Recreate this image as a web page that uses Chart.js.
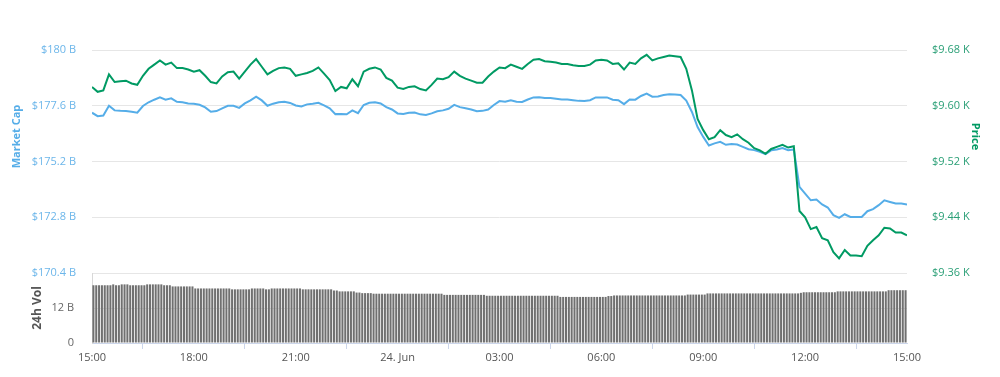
<!DOCTYPE html>
<html>
<head>
<meta charset="utf-8">
<script src="https://cdn.jsdelivr.net/npm/chart.js@4.4.1/dist/chart.umd.min.js"></script>
<style>
  html, body { margin: 0; padding: 0; background: #fff; }
  #wrap { position: relative; width: 1000px; height: 377px; overflow: hidden; }
  #wrap canvas { position: absolute; left: 0; }
  #main { top: 0; }
  #vol { top: 261px; }
</style>
</head>
<body>
<div id="wrap">
  <canvas id="main" width="1000" height="300"></canvas>
  <canvas id="vol" width="1000" height="116"></canvas>
</div>
<script>
// 10-minute samples from 15:00 to 15:00 next day
const marketCap = [
  177.30, 177.15, 177.18, 177.60, 177.40, 177.38, 177.37, 177.34, 177.30, 177.59, 177.75, 177.86,
  177.96, 177.86, 177.92, 177.77, 177.75, 177.70, 177.69, 177.64, 177.53, 177.34, 177.37, 177.49,
  177.60, 177.60, 177.51, 177.70, 177.83, 177.99, 177.83, 177.60, 177.69, 177.75, 177.77, 177.72,
  177.61, 177.57, 177.66, 177.69, 177.73, 177.62, 177.49, 177.24, 177.25, 177.23, 177.40, 177.28,
  177.63, 177.73, 177.75, 177.70, 177.54, 177.44, 177.27, 177.25, 177.30, 177.31, 177.23, 177.20,
  177.27, 177.36, 177.40, 177.47, 177.64, 177.54, 177.49, 177.44, 177.36, 177.38, 177.44, 177.63,
  177.80, 177.77, 177.84, 177.77, 177.76, 177.87, 177.96, 177.97, 177.93, 177.93, 177.90, 177.87,
  177.87, 177.84, 177.81, 177.80, 177.84, 177.96, 177.96, 177.96, 177.86, 177.84, 177.67, 177.87,
  177.86, 178.02, 178.12, 177.99, 178.00, 178.06, 178.09, 178.08, 178.06, 177.82, 177.33, 176.68,
  176.26, 175.89, 175.98, 176.05, 175.92, 175.95, 175.93, 175.83, 175.73, 175.69, 175.62, 175.52,
  175.68, 175.72, 175.78, 175.69, 175.72, 174.11, 173.82, 173.53, 173.56, 173.35, 173.22, 172.89,
  172.77, 172.93, 172.81, 172.81, 172.81, 173.06, 173.15, 173.32, 173.53, 173.46, 173.39, 173.39,
  173.35
];

const price = [
  9627, 9620, 9622, 9645, 9634, 9635, 9636, 9632, 9630, 9643, 9653, 9659,
  9665, 9659, 9662, 9654, 9654, 9652, 9649, 9651, 9643, 9634, 9632, 9642,
  9648, 9649, 9639, 9649, 9659, 9667, 9656, 9645, 9650, 9654, 9655, 9653,
  9643, 9645, 9647, 9650, 9655, 9646, 9637, 9621, 9627, 9625, 9638, 9628,
  9649, 9653, 9655, 9652, 9640, 9636, 9626, 9624, 9627, 9628, 9624, 9622,
  9630, 9639, 9638, 9641, 9649, 9643, 9639, 9636, 9633, 9633, 9642, 9649,
  9655, 9654, 9659, 9656, 9653, 9660, 9666, 9667, 9664, 9663, 9662, 9660,
  9660, 9658, 9657, 9657, 9659, 9665, 9666, 9665, 9660, 9661, 9652, 9662,
  9660, 9668, 9673, 9665, 9668, 9670, 9672, 9671, 9670, 9653, 9622, 9581,
  9565, 9552, 9555, 9565, 9558, 9555, 9559, 9552, 9547, 9539, 9536, 9531,
  9538, 9541, 9544, 9540, 9542, 9449, 9440, 9423, 9426, 9410, 9407, 9390,
  9381, 9393, 9385, 9385, 9384, 9399, 9407, 9414, 9425, 9424, 9418, 9418,
  9414
];

// 24h volume (billions), 5-minute bars
const volume = [
  19.8, 19.8, 19.8, 19.8, 19.8, 19.8, 19.8, 20.1, 19.8, 19.8, 20.1, 20.1,
  20.1, 19.8, 19.8, 19.8, 19.8, 19.8, 19.8, 20.1, 20.1, 20.1, 20.1, 20.1,
  20.1, 19.8, 19.8, 19.8, 19.4, 19.4, 19.4, 19.4, 19.4, 19.4, 19.4, 19.4,
  18.7, 18.7, 18.7, 18.7, 18.7, 18.7, 18.7, 18.7, 18.7, 18.7, 18.7, 18.7,
  18.7, 18.4, 18.4, 18.4, 18.4, 18.4, 18.4, 18.4, 18.7, 18.7, 18.7, 18.7,
  18.7, 18.4, 18.4, 18.7, 18.7, 18.7, 18.7, 18.7, 18.7, 18.7, 18.7, 18.7,
  18.7, 18.7, 18.4, 18.4, 18.4, 18.4, 18.4, 18.4, 18.4, 18.4, 18.4, 18.4,
  18.4, 18.0, 18.0, 17.7, 17.7, 17.7, 17.7, 17.7, 17.7, 17.3, 17.3, 17.1,
  17.1, 17.1, 17.1, 16.9, 16.9, 16.9, 16.9, 16.9, 16.9, 16.9, 16.9, 16.9,
  16.9, 16.9, 16.9, 16.9, 16.9, 16.9, 16.9, 16.9, 16.9, 16.9, 16.9, 16.9,
  16.9, 16.9, 16.9, 16.9, 16.5, 16.5, 16.5, 16.5, 16.5, 16.5, 16.5, 16.5,
  16.5, 16.5, 16.5, 16.5, 16.5, 16.5, 16.5, 16.2, 16.2, 16.2, 16.2, 16.2,
  16.2, 16.2, 16.2, 16.2, 16.2, 16.2, 16.2, 16.2, 16.2, 16.2, 16.2, 16.2,
  16.2, 16.2, 16.2, 16.2, 16.2, 16.2, 16.2, 16.2, 16.2, 15.8, 15.8, 15.8,
  15.8, 15.8, 15.8, 15.8, 15.8, 15.8, 15.8, 15.8, 15.8, 15.8, 15.8, 15.8,
  15.8, 15.8, 16.1, 16.1, 16.3, 16.3, 16.3, 16.3, 16.3, 16.3, 16.3, 16.3,
  16.3, 16.3, 16.3, 16.3, 16.3, 16.3, 16.3, 16.3, 16.3, 16.3, 16.3, 16.3,
  16.3, 16.3, 16.3, 16.3, 16.3, 16.3, 16.6, 16.6, 16.6, 16.6, 16.6, 16.6,
  16.6, 17.0, 17.0, 17.0, 17.0, 17.0, 17.0, 17.0, 17.0, 17.0, 17.0, 17.0,
  17.0, 17.0, 17.0, 17.0, 17.0, 17.0, 17.0, 17.0, 17.0, 17.0, 17.0, 17.0,
  17.0, 17.0, 17.0, 17.0, 17.0, 17.0, 17.0, 17.0, 17.0, 17.0, 17.2, 17.4,
  17.4, 17.4, 17.4, 17.4, 17.4, 17.4, 17.4, 17.4, 17.4, 17.4, 17.4, 17.7,
  17.7, 17.7, 17.7, 17.7, 17.7, 17.7, 17.7, 17.7, 17.7, 17.7, 17.7, 17.7,
  17.7, 17.7, 17.7, 17.7, 17.7, 18.1, 18.1, 18.1, 18.1, 18.1, 18.1, 18.1
];

// ticks: minutes after 15:00
const timeTicks = [0, 180, 360, 540, 720, 900, 1080, 1260, 1440];
const timeLabels = ['15:00', '18:00', '21:00', '24. Jun', '03:00', '06:00', '09:00', '12:00', '15:00'];
const capTicks = [170.4, 172.8, 175.2, 177.6, 180];
const priceTicks = [9360, 9440, 9520, 9600, 9680];
const volTicks = [0, 12, 24];
const volLabels = ['0', '12 B', ''];

const lineMinutes = marketCap.map((_, i) => i * 10);
const barMinutes = volume.map((_, j) => j * 5 + 2.5);

const BLUE = '#55ade8';
const GREEN = '#009a63';
const font = { family: 'Open Sans', size: 11 };

const fixWidth = w => scale => { scale.width = w; scale.paddingTop = 0; scale.paddingBottom = 0; };
const setTicks = list => scale => { scale.ticks = list.map(v => ({ value: v })); };

new Chart(document.getElementById('main').getContext('2d'), {
  type: 'line',
  data: {
    datasets: [
      {
        label: 'Price',
        data: price.map((v, i) => ({ x: lineMinutes[i], y: v })),
        yAxisID: 'y1',
        borderColor: GREEN,
        borderWidth: 2,
        pointRadius: 0
      },
      {
        label: 'Market Cap',
        data: marketCap.map((v, i) => ({ x: lineMinutes[i], y: v })),
        yAxisID: 'y',
        borderColor: BLUE,
        borderWidth: 2,
        pointRadius: 0
      }
    ]
  },
  options: {
    responsive: false,
    animation: false,
    devicePixelRatio: 1,
    layout: { padding: { top: 0, bottom: 27, left: 0, right: 0 } },
    plugins: { legend: { display: false }, tooltip: { enabled: false } },
    scales: {
      x: { type: 'linear', min: 0, max: 1440, display: false },
      y: {
        position: 'left',
        min: 170.4,
        max: 180 + 50 * 9.6 / 223,
        afterBuildTicks: setTicks(capTicks),
        afterFit: fixWidth(92),
        border: { display: false },
        grid: { color: '#e6e6e6', drawTicks: false },
        ticks: {
          color: '#6cb6ea', font, padding: 16,
          callback: v => '$' + (Number.isInteger(v) ? v : v.toFixed(1)) + ' B'
        },
        title: {
          display: true, text: 'Market Cap', color: '#55ade8',
          font: { family: 'Open Sans', size: 11, weight: 'bold' },
          padding: { top: 10, bottom: 0 }
        }
      },
      y1: {
        position: 'right',
        min: 9360,
        max: 9680 + 50 * 320 / 223,
        afterBuildTicks: setTicks(priceTicks),
        afterFit: fixWidth(93),
        border: { display: false },
        grid: { display: false },
        ticks: {
          color: '#2a9f76', font, padding: 17,
          callback: v => '$' + (v / 1000).toFixed(2) + ' K'
        },
        title: {
          display: true, text: 'Price', color: GREEN,
          font: { family: 'Open Sans', size: 11, weight: 'bold' },
          padding: { top: 18, bottom: 0 }
        }
      }
    }
  }
});

new Chart(document.getElementById('vol').getContext('2d'), {
  type: 'bar',
  data: {
    datasets: [{
      label: '24h Vol',
      data: volume.map((v, j) => ({ x: barMinutes[j], y: v })),
      backgroundColor: '#707070',
      barPercentage: 0.72,
      categoryPercentage: 1
    }]
  },
  options: {
    responsive: false,
    animation: false,
    devicePixelRatio: 1,
    layout: { padding: { top: 12, bottom: 12, left: 0, right: 93 } },
    plugins: { legend: { display: false }, tooltip: { enabled: false } },
    scales: {
      x: {
        type: 'linear', min: 0, max: 1440, offset: false,
        afterBuildTicks: setTicks(timeTicks),
        afterFit: scale => { scale.height = 22; },
        border: { color: '#ccd6eb' },
        grid: { drawOnChartArea: false, drawTicks: true, tickLength: 6, color: '#ccd6eb' },
        ticks: { color: '#555', font, padding: 2, maxRotation: 0, callback: (v, i) => timeLabels[i] }
      },
      y: {
        position: 'left',
        min: 0, max: 24,
        afterBuildTicks: setTicks(volTicks),
        afterFit: fixWidth(92),
        border: { color: '#d8d8d8' },
        grid: { color: '#e6e6e6', drawTicks: false },
        ticks: { color: '#666', font, padding: 18, callback: (v, i) => volLabels[i] },
        title: {
          display: true, text: '24h Vol', color: '#555',
          font: { family: 'Open Sans', size: 12, weight: 'bold' },
          padding: { top: 30, bottom: 0 }
        }
      }
    }
  }
});
</script>
</body>
</html>
